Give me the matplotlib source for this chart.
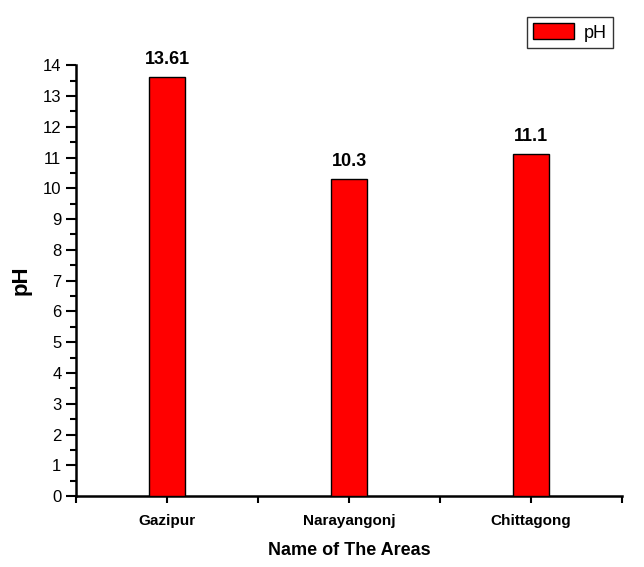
import matplotlib.pyplot as plt
from matplotlib.ticker import MultipleLocator, FixedLocator

# Data
areas = ["Gazipur", "Narayangonj", "Chittagong"]
ph_values = [13.61, 10.3, 11.1]

plt.rcParams['font.family'] = ['Liberation Sans', 'DejaVu Sans']

fig = plt.figure(figsize=(6.44, 5.67), dpi=100)
ax = fig.add_axes([0.118, 0.125, 0.848, 0.76])

x = list(range(len(areas)))
bars = ax.bar(x, ph_values, width=0.2, color='#ff0000', edgecolor='black',
              linewidth=1.0, label='pH', zorder=3)

for xi, v in zip(x, ph_values):
    ax.text(xi, v + 0.3, f"{v:g}", ha='center', va='bottom', fontsize=13,
            fontweight='bold', clip_on=False)

ax.set_xlim(-0.5, len(areas) - 0.5)
ax.set_ylim(0, 14)
ax.set_xticks(x)
ax.set_xticklabels(areas, fontsize=11, fontweight='bold')
ax.xaxis.set_minor_locator(FixedLocator([-0.5, 0.5, 1.5, 2.5]))
ax.yaxis.set_major_locator(MultipleLocator(1))
ax.yaxis.set_minor_locator(MultipleLocator(0.5))
ax.tick_params(axis='y', which='major', length=7, width=1.5, labelsize=12, direction='out')
ax.tick_params(axis='y', which='minor', length=4, width=1.5, direction='out')
ax.tick_params(axis='x', which='both', length=5, width=1.5, direction='out', pad=8)

for s in ['top', 'right']:
    ax.spines[s].set_visible(False)
for s in ['left', 'bottom']:
    ax.spines[s].set_linewidth(1.8)

ax.set_xlabel("Name of The Areas", fontsize=13, fontweight='bold', labelpad=10)
ax.set_ylabel("pH", fontsize=16, fontweight='bold', labelpad=8)

leg = ax.legend(loc='upper right', bbox_to_anchor=(0.983, 1.112), fontsize=13,
                frameon=True, fancybox=False, edgecolor='black',
                handlelength=2.3, handleheight=1.0, borderpad=0.35,
                handletextpad=0.5, borderaxespad=0)
leg.get_frame().set_linewidth(1.0)

fig.savefig("out.png", dpi=100)
